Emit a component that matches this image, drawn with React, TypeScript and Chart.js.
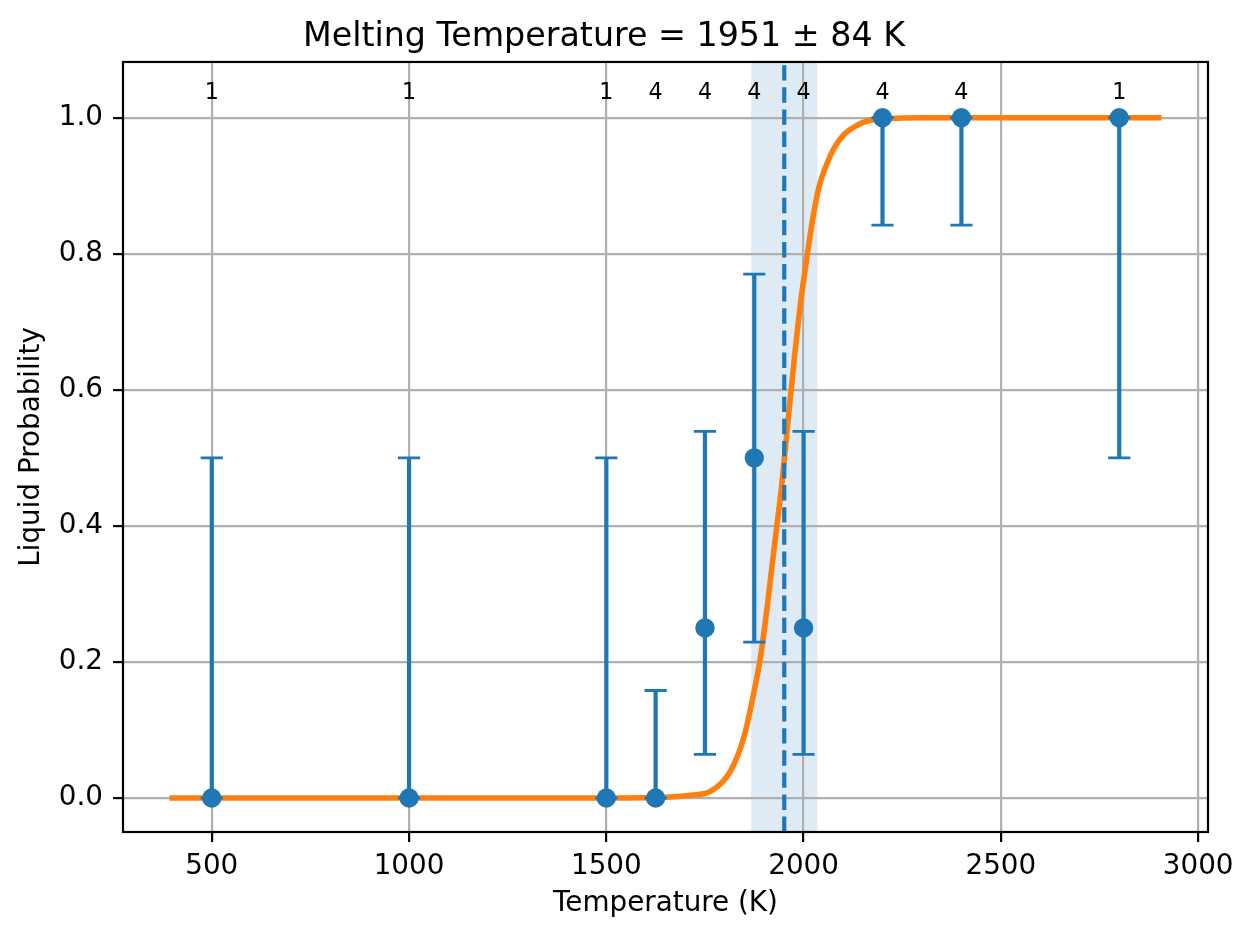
import { useEffect, useRef } from 'react'
import { Chart, registerables } from 'chart.js'

Chart.register(...registerables)

// measured temperatures and liquid fractions
const temps = [500, 1000, 1500, 1625, 1750, 1875, 2000, 2200, 2400, 2800]
const probs = [0, 0, 0, 0, 0.25, 0.5, 0.25, 1, 1, 1]
const errLow = [0, 0, 0, 0, 0.064, 0.229, 0.064, 0.842, 0.842, 0.5]
const errHigh = [0.5, 0.5, 0.5, 0.158, 0.539, 0.77, 0.539, 1, 1, 1]
const counts = [1, 1, 1, 4, 4, 4, 4, 4, 4, 1]

// fitted curve
const fitT = [400, 1500, 1650, 1714, 1765, 1815, 1849, 1874, 1891, 1908, 1925, 1944, 1959, 1976, 1993, 2005, 2016, 2027, 2039, 2056, 2077, 2102, 2136, 2166, 2220, 2300, 2900]
const fitP = [0, 0, 0.001, 0.004, 0.01, 0.04, 0.09, 0.155, 0.208, 0.282, 0.366, 0.457, 0.545, 0.643, 0.731, 0.781, 0.825, 0.864, 0.898, 0.928, 0.955, 0.975, 0.989, 0.996, 0.999, 1, 1]

const meltT = 1951
const meltErr = 84

const xTicks = [500, 1000, 1500, 2000, 2500, 3000]
const yTicks = [0, 0.2, 0.4, 0.6, 0.8, 1.0]

const BLUE = '#1f77b4'
const ORANGE = '#ff7f0e'
const FONT = "'DejaVu Sans', sans-serif"

const overlay = {
  id: 'overlay',
  beforeDraw(chart: any) {
    const { ctx, chartArea: a, scales } = chart
    const x0 = scales.x.getPixelForValue(meltT - meltErr)
    const x1 = scales.x.getPixelForValue(meltT + meltErr)
    ctx.save()
    ctx.fillStyle = 'rgba(31,119,180,0.15)'
    ctx.fillRect(x0, a.top, x1 - x0, a.bottom - a.top)
    ctx.restore()
  },
  beforeDatasetDraw(chart: any, args: any) {
    if (args.index !== 1) return
    const { ctx, scales } = chart
    ctx.save()
    ctx.strokeStyle = BLUE
    temps.forEach((t, i) => {
      const x = scales.x.getPixelForValue(t)
      const yl = scales.y.getPixelForValue(errLow[i])
      const yh = scales.y.getPixelForValue(errHigh[i])
      ctx.lineWidth = 4.2
      ctx.beginPath()
      ctx.moveTo(x, yl)
      ctx.lineTo(x, yh)
      ctx.stroke()
      ctx.lineWidth = 2.8
      ctx.beginPath()
      ctx.moveTo(x - 11.1, yl)
      ctx.lineTo(x + 11.1, yl)
      ctx.moveTo(x - 11.1, yh)
      ctx.lineTo(x + 11.1, yh)
      ctx.stroke()
    })
    ctx.restore()
  },
  afterDatasetsDraw(chart: any) {
    const { ctx, chartArea: a, scales } = chart
    ctx.save()
    // dashed melting line
    const xm = scales.x.getPixelForValue(meltT)
    ctx.strokeStyle = BLUE
    ctx.lineWidth = 4.2
    ctx.setLineDash([15.4, 6.7])
    ctx.beginPath()
    ctx.moveTo(xm, a.bottom)
    ctx.lineTo(xm, a.top)
    ctx.stroke()
    ctx.setLineDash([])

    // spines
    ctx.strokeStyle = '#000'
    ctx.lineWidth = 2.2
    ctx.strokeRect(a.left, a.top, a.right - a.left, a.bottom - a.top)

    // counts above points
    ctx.fillStyle = '#000'
    ctx.font = `22.2px ${FONT}`
    ctx.textAlign = 'center'
    ctx.textBaseline = 'alphabetic'
    temps.forEach((t, i) => {
      ctx.fillText(String(counts[i]), scales.x.getPixelForValue(t), scales.y.getPixelForValue(1.027))
    })
    ctx.restore()
  },
}

export default function App() {
  const canvasRef = useRef<HTMLCanvasElement | null>(null)

  useEffect(() => {
    if (!canvasRef.current) return
    Chart.defaults.font.family = FONT

    const chart = new Chart(canvasRef.current, {
      type: 'line',
      data: {
        datasets: [
          {
            data: fitT.map((t, i) => ({ x: t, y: fitP[i] })),
            borderColor: ORANGE,
            borderWidth: 5.6,
            borderCapStyle: 'square',
            borderJoinStyle: 'round',
            pointRadius: 0,
            cubicInterpolationMode: 'monotone',
            fill: false,
            order: 2,
          },
          {
            data: temps.map((t, i) => ({ x: t, y: probs[i] })),
            showLine: false,
            pointRadius: 9.7,
            pointBorderWidth: 0,
            pointBackgroundColor: BLUE,
            borderColor: BLUE,
            order: 1,
          },
        ],
      },
      options: {
        animation: false,
        responsive: false,
        events: [],
        layout: { padding: { left: 0, right: 45, top: 0, bottom: 0 } },
        plugins: {
          legend: { display: false },
          tooltip: { enabled: false },
          title: {
            display: true,
            text: `Melting Temperature = ${meltT} ± ${meltErr} K`,
            color: '#000',
            font: { size: 33.3, weight: 'normal', family: FONT },
            padding: { top: 17, bottom: 5 },
          },
        },
        scales: {
          x: {
            type: 'linear',
            min: 275,
            max: 3025,
            afterBuildTicks: (s: any) => {
              s.ticks = xTicks.map((v) => ({ value: v }))
            },
            afterFit: (s: any) => {
              s.height = 107
            },
            ticks: {
              color: '#000',
              font: { size: 27.8 },
              padding: 8,
              maxRotation: 0,
              autoSkip: false,
              callback: (v: any) => String(v),
            },
            grid: { color: '#b0b0b0', lineWidth: 2.2, tickLength: 10, tickColor: '#000', tickWidth: 2.2 },
            border: { display: false },
            title: {
              display: true,
              text: 'Temperature (K)',
              color: '#000',
              font: { size: 27.8 },
              padding: { top: 0, bottom: 19 },
            },
          },
          y: {
            type: 'linear',
            min: -0.05,
            max: 1.082,
            afterBuildTicks: (s: any) => {
              s.ticks = yTicks.map((v) => ({ value: v }))
            },
            afterFit: (s: any) => {
              s.width = 123
            },
            ticks: {
              color: '#000',
              font: { size: 27.8 },
              padding: 10,
              autoSkip: false,
              callback: (v: any) => Number(v).toFixed(1),
            },
            grid: { color: '#b0b0b0', lineWidth: 2.2, tickLength: 10, tickColor: '#000', tickWidth: 2.2 },
            border: { display: false },
            title: {
              display: true,
              text: 'Liquid Probability',
              color: '#000',
              font: { size: 27.8 },
              padding: { top: 15, bottom: 0 },
            },
          },
        },
      },
      plugins: [overlay],
    } as any)

    return () => {
      chart.destroy()
    }
  }, [])

  return (
    <div style={{ position: 'absolute', left: 0, top: 0, width: 1253, height: 939, background: '#fff' }}>
      <canvas ref={canvasRef} width={1253} height={939} style={{ display: 'block' }} />
    </div>
  )
}
